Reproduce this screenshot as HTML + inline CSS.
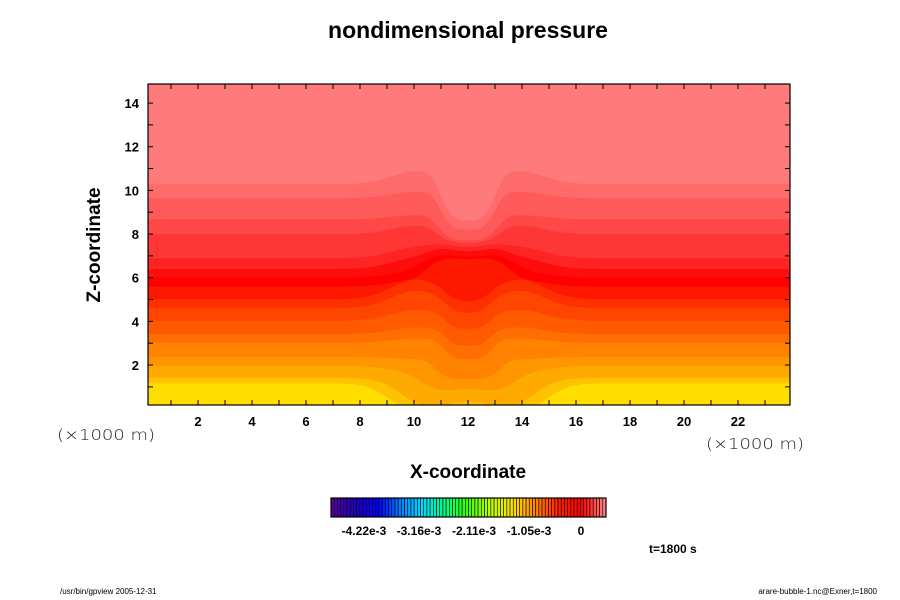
<!DOCTYPE html>
<html><head><meta charset="utf-8">
<style>
html,body{margin:0;padding:0;background:#fff;}
svg{display:block;font-family:"Liberation Sans",sans-serif;}
</style></head>
<body>
<svg id="chart" width="900" height="600" viewBox="0 0 900 600">
<text x="468" y="38" text-anchor="middle" font-size="23" font-weight="bold">nondimensional pressure</text>
<g id="field"></g>
<rect x="148" y="84" width="642" height="321" fill="none" stroke="#000" stroke-width="1.2"/>
<g id="ticks"></g>
<text x="0" y="0" transform="translate(100,245) rotate(-90)" text-anchor="middle" font-size="19" font-weight="bold">Z-coordinate</text>
<text x="468" y="478" text-anchor="middle" font-size="19" font-weight="bold">X-coordinate</text>
<text x="57" y="440" font-size="15" textLength="98" lengthAdjust="spacingAndGlyphs" font-family="DejaVu Sans, sans-serif" font-weight="200" fill="#222">(×1000 m)</text>
<text x="706" y="449" font-size="15" textLength="98" lengthAdjust="spacingAndGlyphs" font-family="DejaVu Sans, sans-serif" font-weight="200" fill="#222">(×1000 m)</text>
<g id="cbar"></g>
<text x="649" y="553" font-size="12" font-weight="bold">t=1800 s</text>
<text x="60" y="594" font-size="8">/usr/bin/gpview 2005-12-31</text>
<text x="877" y="594" font-size="8" text-anchor="end">arare-bubble-1.nc@Exner,t=1800</text>
</svg>
<script>
// band boundary heights (far field, km) and their perturbations
const baseZ = [10.28, 9.64, 8.67, 7.99, 6.89, 6.4, 6.0, 5.59, 5.01, 4.6, 4.03, 3.42, 3.02, 2.38, 1.96, 1.42, 1.16];
const centerShift = [-1.8, -1.5, -1.0, -0.5, 0.4, 0.7, 0.9, 1.2, -0.3, -0.4, -0.5, -0.6, -0.8, -1.0, -1.0, -1.0, -0.95];
const sideShift = [0.6, 0.3, 0.2, 0.4, 0.5, 0.5, 0.3, 0.3, 0.9, 0.8, 0.5, 0.3, 0.2, -0.1, -0.3, -0.5, -0.6];
const centerWidth = [1.1, 1.1, 1.2, 1.3, 1.5, 1.6, 1.8, 1.6, 0.9, 0.9, 0.9, 0.9, 1.0, 1.3, 1.8, 2.4, 3.0];
const bandColors = ["#ff7a7a","#ff6a6a","#ff5a5a","#ff4848","#ff3636","#ff2424","#ff0c0c","#ff0000","#ff1800","#ff3000","#ff4600","#ff5a00","#ff6e00","#ff8200","#ff9600","#ffaa00","#ffc200","#ffde00"];
const xTicks = [2,4,6,8,10,12,14,16,18,20,22];
const yTicks = [2,4,6,8,10,12,14];
const cbLabels = ["-4.22e-3","-3.16e-3","-2.11e-3","-1.05e-3","0"];
const cbStops = ["#5a00a0","#2000c0","#0000ff","#0080ff","#00e0ff","#00ff80","#40ff00","#c0ff00","#ffe000","#ff8000","#ff2000","#ff0000","#ff8080"];

const NS="http://www.w3.org/2000/svg";
const X0=144, KX=27, Y0=408.7, KY=21.83;
const xs=v=>X0+KX*v, ys=z=>Y0-KY*z;
const XMIN=0.1, XMAX=23.95, ZMIN=0.17, ZMAX=14.87;

const field=document.getElementById('field');
const clip=document.createElementNS(NS,'clipPath');clip.setAttribute('id','pc');
const cr=document.createElementNS(NS,'rect');
cr.setAttribute('x',148);cr.setAttribute('y',84);cr.setAttribute('width',642);cr.setAttribute('height',321);
clip.appendChild(cr);field.appendChild(clip);
field.setAttribute('clip-path','url(#pc)');
const bg=document.createElementNS(NS,'rect');
bg.setAttribute('x',148);bg.setAttribute('y',84);bg.setAttribute('width',642);bg.setAttribute('height',321);
bg.setAttribute('fill',bandColors[0]);


field.appendChild(bg);
function bz(i,x){
  const d=(x-12)/centerWidth[i];
  const c=Math.exp(-d*d*d*d);
  const s=Math.exp(-Math.pow((x-10.1)/1.3,2))+Math.exp(-Math.pow((x-13.9)/1.3,2));
  return baseZ[i]+centerShift[i]*c+sideShift[i]*s;
}
baseZ.forEach((b,i)=>{
  let d='M'+xs(XMIN)+','+ys(ZMIN-0.5);
  for(let x=XMIN;x<=XMAX+0.05;x+=0.05){d+=' L'+xs(x).toFixed(1)+','+ys(bz(i,x)).toFixed(1);}
  d+=' L'+xs(XMAX)+','+ys(ZMIN-0.5)+' Z';
  const p=document.createElementNS(NS,'path');
  p.setAttribute('d',d);p.setAttribute('fill',bandColors[i+1]);
  
  
  field.appendChild(p);
});

const tk=document.getElementById('ticks');
function line(x1,y1,x2,y2){const l=document.createElementNS(NS,'line');
  l.setAttribute('x1',x1);l.setAttribute('y1',y1);l.setAttribute('x2',x2);l.setAttribute('y2',y2);
  l.setAttribute('stroke','#000');l.setAttribute('stroke-width','1');
  
  
  tk.appendChild(l);}
for(let v=1;v<=23;v++){const x=xs(v);line(x,405,x,400);line(x,84,x,89);}
for(let v=1;v<=14;v++){const y=ys(v);line(148,y,153,y);line(790,y,785,y);}
xTicks.forEach(v=>{const t=document.createElementNS(NS,'text');
  t.setAttribute('x',xs(v));t.setAttribute('y',426);t.setAttribute('text-anchor','middle');
  t.setAttribute('font-size','13');t.setAttribute('font-weight','bold');t.textContent=v;
  
  
  tk.appendChild(t);});
yTicks.forEach(v=>{const t=document.createElementNS(NS,'text');
  t.setAttribute('x',139);t.setAttribute('y',ys(v)+5);t.setAttribute('text-anchor','end');
  t.setAttribute('font-size','13');t.setAttribute('font-weight','bold');t.textContent=v;
  
  
  tk.appendChild(t);});

// colorbar
const cb=document.getElementById('cbar');
const N=86, CX=331, CW=275, CY=498, CH=19;
function hex(h){return [1,3,5].map(k=>parseInt(h.substr(k,2),16));}
for(let i=0;i<N;i++){
  const f=i/(N-1)*(cbStops.length-1);const k=Math.min(Math.floor(f),cbStops.length-2);const t=f-k;
  const a=hex(cbStops[k]),b=hex(cbStops[k+1]);
  const c=a.map((v,j)=>Math.round(v+(b[j]-v)*t));
  const r=document.createElementNS(NS,'rect');
  r.setAttribute('x',CX+i*CW/N);r.setAttribute('y',CY);r.setAttribute('width',CW/N);r.setAttribute('height',CH);
  r.setAttribute('fill','rgb('+c.join(',')+')');r.setAttribute('stroke','#000');r.setAttribute('stroke-width','0.6');
  
  
  cb.appendChild(r);
}
const fr=document.createElementNS(NS,'rect');
fr.setAttribute('x',CX);fr.setAttribute('y',CY);fr.setAttribute('width',CW);fr.setAttribute('height',CH);
fr.setAttribute('fill','none');fr.setAttribute('stroke','#000');fr.setAttribute('stroke-width','1.2');


cb.appendChild(fr);
const lx=[364,419,474,529,581];
cbLabels.forEach((s,i)=>{const t=document.createElementNS(NS,'text');
  t.setAttribute('x',lx[i]);t.setAttribute('y',535);t.setAttribute('text-anchor','middle');
  t.setAttribute('font-size','12');t.setAttribute('font-weight','bold');t.textContent=s;
  
  
  cb.appendChild(t);});
</script>
</body></html>
